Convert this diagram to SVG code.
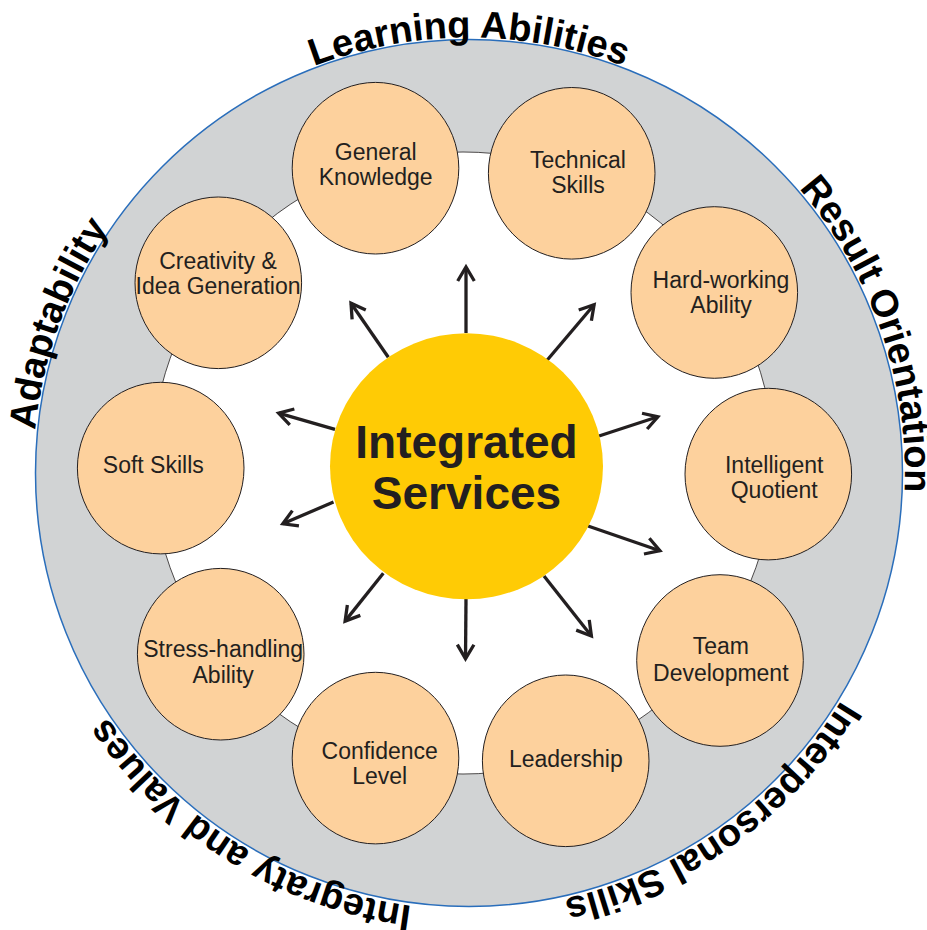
<svg xmlns="http://www.w3.org/2000/svg" width="927" height="930" viewBox="0 0 927 930">
<style>
.sat{fill:#fdd19d;stroke:#231f20;stroke-width:1}
.st{font-family:"Liberation Sans",Arial,sans-serif;font-size:23px;fill:#231f20;text-anchor:middle}
.arc{font-family:"Liberation Sans",Arial,sans-serif;font-size:38px;font-weight:bold;fill:#000}
.ctr{font-family:"Liberation Sans",Arial,sans-serif;font-size:46px;font-weight:bold;fill:#231f20;text-anchor:middle}
.arr{stroke:#231f20;stroke-width:3.3;fill:none;marker-end:url(#ah)}
</style>
<defs>
<marker id="ah" markerUnits="userSpaceOnUse" viewBox="-20 -12 24 24" refX="0" refY="0" markerWidth="24" markerHeight="24" orient="auto">
<path d="M-14,-8.3 L0,0 L-14,8.3" fill="none" stroke="#231f20" stroke-width="3.3"/>
</marker>
<path id="p1" d="M39.6,549.2 A436,436 0 1 1 898.4,549.2"/>
<path id="p2" d="M256.3,92.9 A436,436 0 1 1 538.7,903.9"/>
<path id="p3" d="M393.3,902.9 A436,436 0 1 1 687,95.9"/>
<path id="p4" d="M774.1,162 A436,436 0 1 1 75.8,661.9"/>
<path id="p5" d="M873.8,635.4 A436,436 0 1 1 144,182.9"/>
</defs>
<g id="ring">
<circle cx="469" cy="473" r="433.5" fill="#d1d3d4" stroke="#2a6ebb" stroke-width="1.5"/>
<circle cx="463" cy="463" r="311" fill="#ffffff" stroke="#231f20" stroke-width="0.8"/>
</g>
<g id="connectors">
<line class="arr" x1="466" y1="333" x2="466" y2="267"/>
<line class="arr" x1="388.3" y1="357.3" x2="351" y2="303.2"/>
<line class="arr" x1="547.3" y1="360" x2="594.1" y2="304.7"/>
<line class="arr" x1="335" y1="429.3" x2="278.6" y2="413.1"/>
<line class="arr" x1="599" y1="436" x2="657.9" y2="416.8"/>
<line class="arr" x1="588" y1="526" x2="659.9" y2="550.7"/>
<line class="arr" x1="544" y1="576" x2="591.4" y2="636"/>
<line class="arr" x1="466" y1="599" x2="465.5" y2="658.7"/>
<line class="arr" x1="383.3" y1="573.3" x2="345.1" y2="621.1"/>
<line class="arr" x1="333.5" y1="502" x2="282.8" y2="523.8"/>
</g>
<g id="center">
<ellipse cx="466.5" cy="466.3" rx="136.5" ry="133" fill="#ffcb05"/>
<text class="ctr" x="466.5" y="458">Integrated</text>
<text class="ctr" x="466.5" y="509">Services</text>
</g>
<g id="general-knowledge">
<ellipse class="sat" cx="375.5" cy="168.2" rx="83.3" ry="85.8"/>
<text class="st" x="375.7" y="160">General</text>
<text class="st" x="375.7" y="185">Knowledge</text>
</g>
<g id="technical-skills">
<ellipse class="sat" cx="571.7" cy="173.3" rx="83.3" ry="85.8"/>
<text class="st" x="578" y="167.7">Technical</text>
<text class="st" x="578" y="193">Skills</text>
</g>
<g id="hard-working">
<ellipse class="sat" cx="714.3" cy="292.5" rx="83.3" ry="85.8"/>
<text class="st" x="721" y="288.3">Hard-working</text>
<text class="st" x="721" y="313.3">Ability</text>
</g>
<g id="intelligent-quotient">
<ellipse class="sat" cx="768.3" cy="474.1" rx="83.3" ry="85.8"/>
<text class="st" x="774.2" y="473.3">Intelligent</text>
<text class="st" x="774.2" y="498.3">Quotient</text>
</g>
<g id="team-development">
<ellipse class="sat" cx="720" cy="660.5" rx="83.3" ry="85.8"/>
<text class="st" x="720.8" y="654.3">Team</text>
<text class="st" x="720.8" y="680.7">Development</text>
</g>
<g id="leadership">
<ellipse class="sat" cx="565.7" cy="760.8" rx="83.3" ry="85.8"/>
<text class="st" x="565.8" y="767.3">Leadership</text>
</g>
<g id="confidence-level">
<ellipse class="sat" cx="375.5" cy="758.1" rx="83.3" ry="85.8"/>
<text class="st" x="379.7" y="759.3">Confidence</text>
<text class="st" x="379.7" y="784.3">Level</text>
</g>
<g id="stress-handling">
<ellipse class="sat" cx="220.7" cy="654.2" rx="83.3" ry="85.8"/>
<text class="st" x="223.2" y="657.3">Stress-handling</text>
<text class="st" x="223.2" y="682.7">Ability</text>
</g>
<g id="soft-skills">
<ellipse class="sat" cx="160.7" cy="468.1" rx="83.3" ry="85.8"/>
<text class="st" x="153.3" y="472.7">Soft Skills</text>
</g>
<g id="creativity">
<ellipse class="sat" cx="218.3" cy="282.8" rx="83.3" ry="85.8"/>
<text class="st" x="218" y="269.3">Creativity &amp;</text>
<text class="st" x="218" y="294">Idea Generation</text>
</g>
<g id="arc-labels">
<text class="arc"><textPath href="#p1" startOffset="50%" text-anchor="middle">Learning Abilities</textPath></text>
<text class="arc"><textPath href="#p2" startOffset="50%" text-anchor="middle">Result Orientation</textPath></text>
<text class="arc"><textPath href="#p3" startOffset="50%" text-anchor="middle">Adaptability</textPath></text>
<text class="arc"><textPath href="#p4" startOffset="50%" text-anchor="middle">Interpersonal Skills</textPath></text>
<text class="arc"><textPath href="#p5" startOffset="50%" text-anchor="middle">Integraty and Values</textPath></text>
</g>
</svg>
